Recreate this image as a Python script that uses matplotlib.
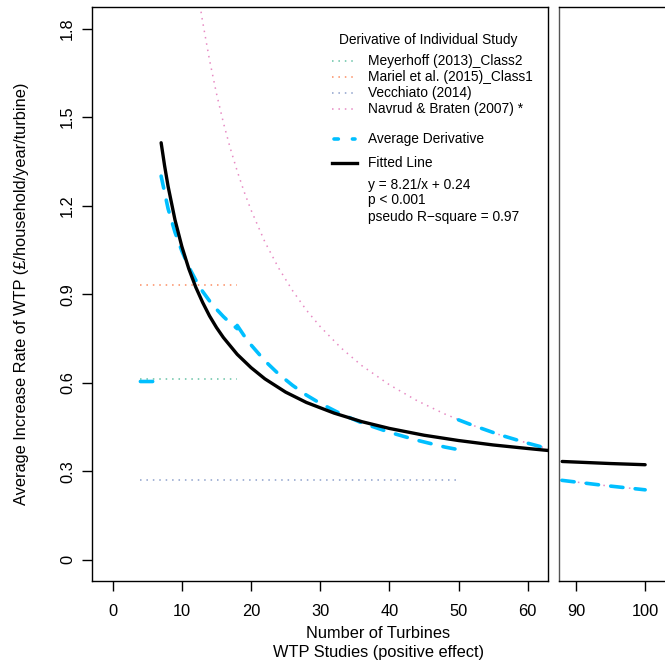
import numpy as np
import matplotlib.pyplot as plt
from matplotlib.lines import Line2D

plt.rcParams['font.family'] = ['Liberation Sans', 'DejaVu Sans']

# ---- data ----
# flat derivatives of individual studies
meyerhoff_x = [4, 18]
meyerhoff_y = [0.613, 0.613]
mariel_x = [4, 18]
mariel_y = [0.932, 0.932]
vecchiato_x = [4, 50]
vecchiato_y = [0.271, 0.271]

# Navrud & Braten (2007) derivative (decreasing curve)
navrud_x = [12, 12.5, 13, 14, 15, 16, 17, 18, 19, 20, 22, 24, 26, 28, 30, 33, 36,
            40, 44, 48, 52, 56, 60, 63.5, 88, 94, 100]
navrud_y = [1.975, 1.896, 1.823, 1.693, 1.58, 1.481, 1.394, 1.317, 1.247, 1.185,
            1.077, 0.988, 0.912, 0.846, 0.79, 0.718, 0.658, 0.593, 0.539, 0.494,
            0.456, 0.423, 0.395, 0.373, 0.269, 0.252, 0.237]

# average derivative, drawn in pieces (NaN = break)
avg_x = [4, 5, 6, np.nan,
         7, 8, 9, 10, 11, 12, 13, 14, 15, 16, 17, 18, np.nan,
         18, 19, 20, 22, 24, 26, 28, 30, 33, 36, 40, 44, 48, 50, np.nan,
         50, 52, 56, 60, 63.5, 88, 94, 100]
avg_y = [0.604, 0.604, 0.604, np.nan,
         1.30, 1.19, 1.11, 1.046, 0.992, 0.948, 0.909, 0.877, 0.849, 0.824, 0.802, 0.783, np.nan,
         0.794, 0.759, 0.728, 0.674, 0.629, 0.591, 0.558, 0.530, 0.494, 0.464, 0.432, 0.405, 0.382, 0.373, np.nan,
         0.474, 0.456, 0.423, 0.395, 0.373, 0.269, 0.252, 0.237]

# fitted line y = 8.21/x + 0.24
fit_x = [7, 7.5, 8, 9, 10, 11, 12, 13, 14, 15, 16, 18, 20, 22, 25, 28, 32, 36,
         40, 45, 50, 55, 60, 63.5, 88, 90, 95, 100]
fit_y = [1.413, 1.335, 1.266, 1.152, 1.061, 0.986, 0.924, 0.872, 0.826, 0.787,
         0.753, 0.696, 0.651, 0.613, 0.568, 0.533, 0.497, 0.468, 0.445, 0.422,
         0.404, 0.389, 0.377, 0.369, 0.333, 0.331, 0.326, 0.322]

study_labels = ["Meyerhoff (2013)_Class2", "Mariel et al. (2015)_Class1",
                "Vecchiato (2014)", "Navrud & Braten (2007) *"]
study_colors = ["#66C2A5", "#FC8D62", "#8DA0CB", "#E78AC3"]
stats_lines = ["y = 8.21/x + 0.24", "p < 0.001", "pseudo R\u2212square = 0.97"]

y_ticks = [0, 0.3, 0.6, 0.9, 1.2, 1.5, 1.8]
y_ticklabels = ["0", "0.3", "0.6", "0.9", "1.2", "1.5", "1.8"]
x_ticks_left = [0, 10, 20, 30, 40, 50, 60]
x_ticks_right = [90, 100]

# ---- layout ----
W, H = 665, 662
def fx(p):
    return p / W
def fy(p):
    return 1 - p / H

fig = plt.figure(figsize=(W / 100, H / 100), dpi=100)
ax1 = fig.add_axes([fx(91.7), fy(581), (548.3 - 91.7) / W, (581 - 7.3) / H])
ax2 = fig.add_axes([fx(559.3), fy(581), (680 - 559.3) / W, (581 - 7.3) / H])

dot = dict(lw=1.1, linestyle=(0, (1, 3.2)), dash_capstyle="butt")
dash = dict(color="#00BFFF", lw=2.6, linestyle=(0, (3.4, 3.4)),
            dash_capstyle="round", solid_capstyle="round")
fitk = dict(color="black", lw=2.4, solid_capstyle="round")

for ax in (ax1, ax2):
    ax.plot(meyerhoff_x, meyerhoff_y, color=study_colors[0], **dot)
    ax.plot(mariel_x, mariel_y, color=study_colors[1], **dot)
    ax.plot(vecchiato_x, vecchiato_y, color=study_colors[2], **dot)
    ax.plot(navrud_x, navrud_y, color=study_colors[3], **dot)
    ax.plot(avg_x, avg_y, **dash)
    ax.set_ylim(-0.072, 1.872)
    ax.tick_params(direction="out", length=7.5, width=1, labelsize=11.8, pad=9)
    for s in ax.spines.values():
        s.set_linewidth(1.0)

# fitted line: left panel up to the edge, right panel from 88
fx_arr = np.array(fit_x)
fy_arr = np.array(fit_y)
ax1.plot(fx_arr[fx_arr < 70], fy_arr[fx_arr < 70], **fitk)
ax2.plot(fx_arr[fx_arr > 70], fy_arr[fx_arr > 70], **fitk)

ax1.set_xlim(-3.04, 62.98)
ax1.set_xticks(x_ticks_left)
ax1.set_xticklabels([str(t) for t in x_ticks_left])
ax1.set_yticks(y_ticks)
ax1.set_yticklabels(y_ticklabels, rotation=90, va="center")
ax1.tick_params(axis="y", pad=4.5)

ax2.set_xlim(87.59, 105.04)
ax2.set_xticks(x_ticks_right)
ax2.set_xticklabels([str(t) for t in x_ticks_right])
ax2.tick_params(axis="y", left=False, labelleft=False)
ax2.spines["left"].set_color("#555555")

# axis titles
fig.text(fx(22), fy(294), "Average Increase Rate of WTP (\u00a3/household/year/turbine)",
         rotation=90, ha="center", va="center", fontsize=11.8)
fig.text(fx(378.5), fy(633), "Number of Turbines", ha="center", va="center", fontsize=11.8)
fig.text(fx(378.5), fy(652), "WTP Studies (positive effect)", ha="center", va="center", fontsize=11.8)

# ---- legend (drawn by hand to match spacing) ----
lfs = 9.9
fig.text(fx(427.8), fy(40), "Derivative of Individual Study", ha="center", va="center", fontsize=lfs)
rows = [61, 77.3, 93.3, 109.3]
for lab, col, r in zip(study_labels, study_colors, rows):
    fig.add_artist(Line2D([fx(331.7), fx(356)], [fy(r), fy(r)], color=col,
                          transform=fig.transFigure, **dot))
    fig.text(fx(368.3), fy(r), lab, ha="left", va="center", fontsize=lfs)

fig.add_artist(Line2D([fx(333.5), fx(355)], [fy(139.3), fy(139.3)], color="#00BFFF", lw=2.6,
                      linestyle=(0, (1.2, 3.9)), dash_capstyle="round",
                      transform=fig.transFigure))
fig.text(fx(368.3), fy(139.3), "Average Derivative", ha="left", va="center", fontsize=lfs)
fig.add_artist(Line2D([fx(331.7), fx(356.7)], [fy(162.7), fy(162.7)], color="black", lw=2.4,
                      transform=fig.transFigure))
fig.text(fx(368.3), fy(162.7), "Fitted Line", ha="left", va="center", fontsize=lfs)
for txt, r in zip(stats_lines, [185, 200, 216.7]):
    fig.text(fx(368.3), fy(r), txt, ha="left", va="center", fontsize=lfs)

fig.savefig("out.png", dpi=100)
